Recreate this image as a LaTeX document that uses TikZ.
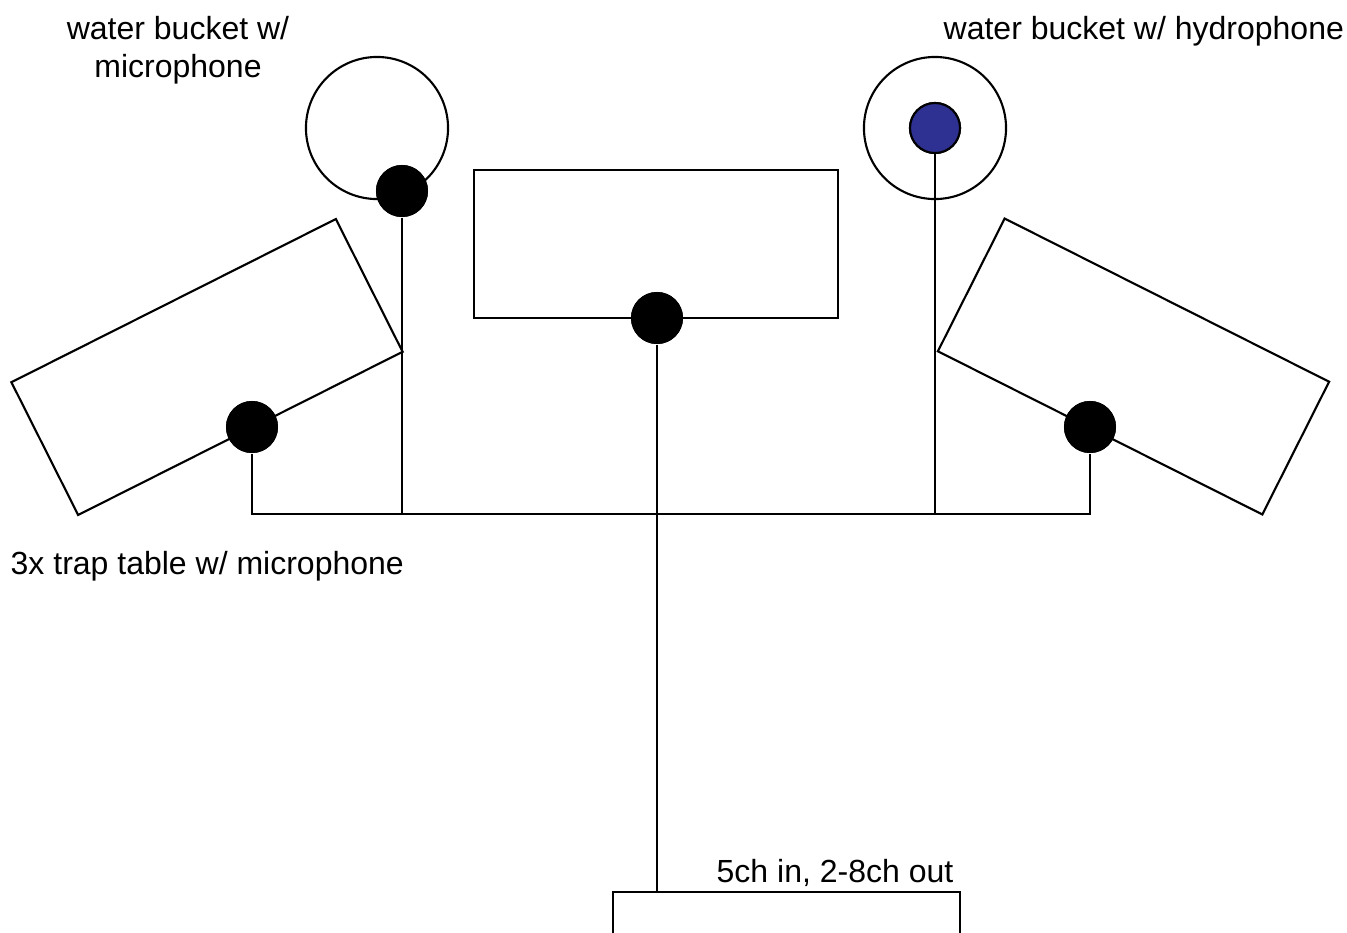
\documentclass[tikz,border=0pt]{standalone}
\usepackage{fontspec}
\setmainfont{Liberation Sans}
\definecolor{hydroblue}{RGB}{46,49,146}
\begin{document}
\begin{tikzpicture}[x=0.01cm,y=-0.01cm,
  line/.style={draw=black,line width=0.6pt},
  table/.style={line,rectangle,minimum width=3.63cm,minimum height=1.485cm,inner sep=0pt},
  bucket/.style={line,circle,minimum size=1.42cm,inner sep=0pt},
  mic/.style={circle,fill=black,minimum size=0.52cm,inner sep=0pt},
  hydro/.style={line,circle,fill=hydroblue,minimum size=0.5cm,inner sep=0pt},
  lbl/.style={inner sep=0pt,font=\fontsize{9.1}{10.8}\selectfont}]
\useasboundingbox (0,0) rectangle (1347,933);
\clip (0,0) rectangle (1347,933);
\fill[white] (0,0) rectangle (1347,933);
% tables
\node[table,rotate=26.7] (tl) at (207,367) {};
\node[table,rotate=-26.7] (tr) at (1133.5,366.5) {};
\node[table,minimum width=3.64cm,minimum height=1.48cm] (tc) at (656,244) {};
% buckets
\node[bucket] (bl) at (377,128) {};
\node[bucket] (br) at (935,128) {};
% mixer
\coordinate (mxl) at (613,892);
\coordinate (mxr) at (960,892);
\draw[line] ([yshift=-1cm]mxl) -- (mxl) -- (mxr) -- ([yshift=-1cm]mxr);
% mics
\node[mic] (ml) at (252,427) {};
\node[mic] (mr) at (1090,427) {};
\node[mic] (mc) at (657,318) {};
\node[mic] (mb) at (402,191) {};
\node[hydro] (hp) at (935,128) {};
% bus coordinates
\coordinate (b1) at (252,514);
\coordinate (b2) at (402,514);
\coordinate (b3) at (657,514);
\coordinate (b4) at (935,514);
\coordinate (b5) at (1090,514);
\coordinate (mxin) at (657,892);
% connectors
\draw[line] (ml) -- (b1) -- (b5) -- (mr);
\draw[line] (mb) -- (b2);
\draw[line] (hp) -- (b4);
\draw[line] (mc) -- (mxin);
% redraw dots on top
\node[mic] at (ml) {};
\node[mic] at (mr) {};
\node[mic] at (mc) {};
\node[mic] at (mb) {};
\node[hydro] at (hp) {};
% labels
\node[lbl,anchor=base,align=center] (t1) at (178,77) {water bucket w/\\microphone};
\node[lbl,anchor=base west] (t2) at (943,39) {water bucket w/ hydrophone};
\node[lbl,anchor=base west] (t3) at (10,574) {3x trap table w/ microphone};
\node[lbl,anchor=base west] (t4) at (716,882) {5ch in, 2-8ch out};
\end{tikzpicture}
\end{document}
